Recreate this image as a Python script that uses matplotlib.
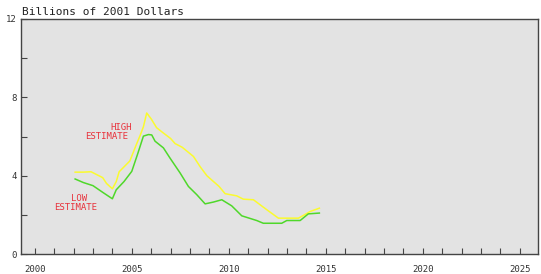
import matplotlib
matplotlib.use("Agg")
import matplotlib.pyplot as plt
from matplotlib.ticker import MultipleLocator, FixedLocator

high_years = [2002.08, 2002.5, 2002.9, 2003.2, 2003.5, 2003.7, 2004.0, 2004.2, 2004.35, 2004.6,
              2004.9, 2005.2, 2005.45, 2005.6, 2005.77, 2006.0, 2006.28, 2006.6, 2007.0, 2007.23,
              2007.6, 2008.18, 2008.53, 2008.87, 2009.2, 2009.5, 2009.81, 2010.41, 2010.75, 2011.27,
              2011.96, 2012.56, 2013.59, 2013.9, 2014.19, 2014.67]
high_vals = [4.18, 4.18, 4.2, 4.05, 3.9, 3.6, 3.33, 3.7, 4.2, 4.45,
             4.75, 5.5, 6.1, 6.5, 7.2, 6.9, 6.45, 6.2, 5.9, 5.64,
             5.45, 4.98, 4.45, 4.0, 3.71, 3.45, 3.08, 2.97, 2.8, 2.77,
             2.26, 1.83, 1.83, 2.0, 2.17, 2.34]

low_years = [2002.08, 2002.5, 2003.0, 2003.5, 2004.0, 2004.2, 2004.6, 2005.0, 2005.3, 2005.6,
             2005.86, 2006.03, 2006.2, 2006.63, 2006.97, 2007.49, 2007.92, 2008.35, 2008.78, 2009.2,
             2009.64, 2010.15, 2010.67, 2011.44, 2011.78, 2012.73, 2012.99, 2013.68, 2014.1, 2014.67]
low_vals = [3.83, 3.65, 3.49, 3.15, 2.82, 3.28, 3.7, 4.22, 5.1, 6.02,
            6.1, 6.08, 5.76, 5.42, 4.9, 4.14, 3.45, 3.03, 2.56, 2.65,
            2.77, 2.46, 1.95, 1.71, 1.57, 1.57, 1.71, 1.71, 2.05, 2.09]

x_tick_labels = ["2000", "2005", "2010", "2015", "2020", "2025"]
y_tick_labels = ["0", "4", "8", "12"]

fig = plt.figure(figsize=(5.41, 2.74), dpi=100)
ax = fig.add_axes([21/541, 20/274, (538-21)/541, (254-19)/274])
ax.set_facecolor("#e3e3e3")

ax.plot(high_years, high_vals, color="#fbfb2e", lw=1.1)
ax.plot(low_years, low_vals, color="#4fd82a", lw=1.1)

ax.set_xlim(1999.29, 2025.94)
ax.set_ylim(0, 12)

font = dict(family="DejaVu Sans Mono", fontsize=6.5)
ax.xaxis.set_major_locator(FixedLocator([int(s) for s in x_tick_labels]))
ax.set_xticklabels(x_tick_labels, **font, color="#333333")
ax.xaxis.set_minor_locator(MultipleLocator(1))
ax.yaxis.set_major_locator(FixedLocator([float(s) for s in y_tick_labels]))
ax.set_yticklabels(y_tick_labels, **font, color="#333333")
ax.yaxis.set_minor_locator(MultipleLocator(2))

ax.tick_params(axis="x", which="both", direction="in", length=4.5, width=0.8, color="#444444", pad=8)
ax.tick_params(axis="y", which="both", direction="in", length=4, width=0.8, color="#444444", pad=3)
for s in ax.spines.values():
    s.set_color("#444444")
    s.set_linewidth(1.0)

red = "#e8323c"
ax.text(2005.0, 6.45, "HIGH", color=red, ha="right", va="center", **font)
ax.text(2004.8, 6.0, "ESTIMATE", color=red, ha="right", va="center", **font)
ax.text(2002.7, 2.85, "LOW", color=red, ha="right", va="center", **font)
ax.text(2003.2, 2.4, "ESTIMATE", color=red, ha="right", va="center", **font)

fig.text(22/541, 1 - 12/274, "Billions of 2001 Dollars", ha="left", va="center",
         family="DejaVu Sans Mono", fontsize=8, color="#222222")

fig.savefig("out.png", dpi=100)
